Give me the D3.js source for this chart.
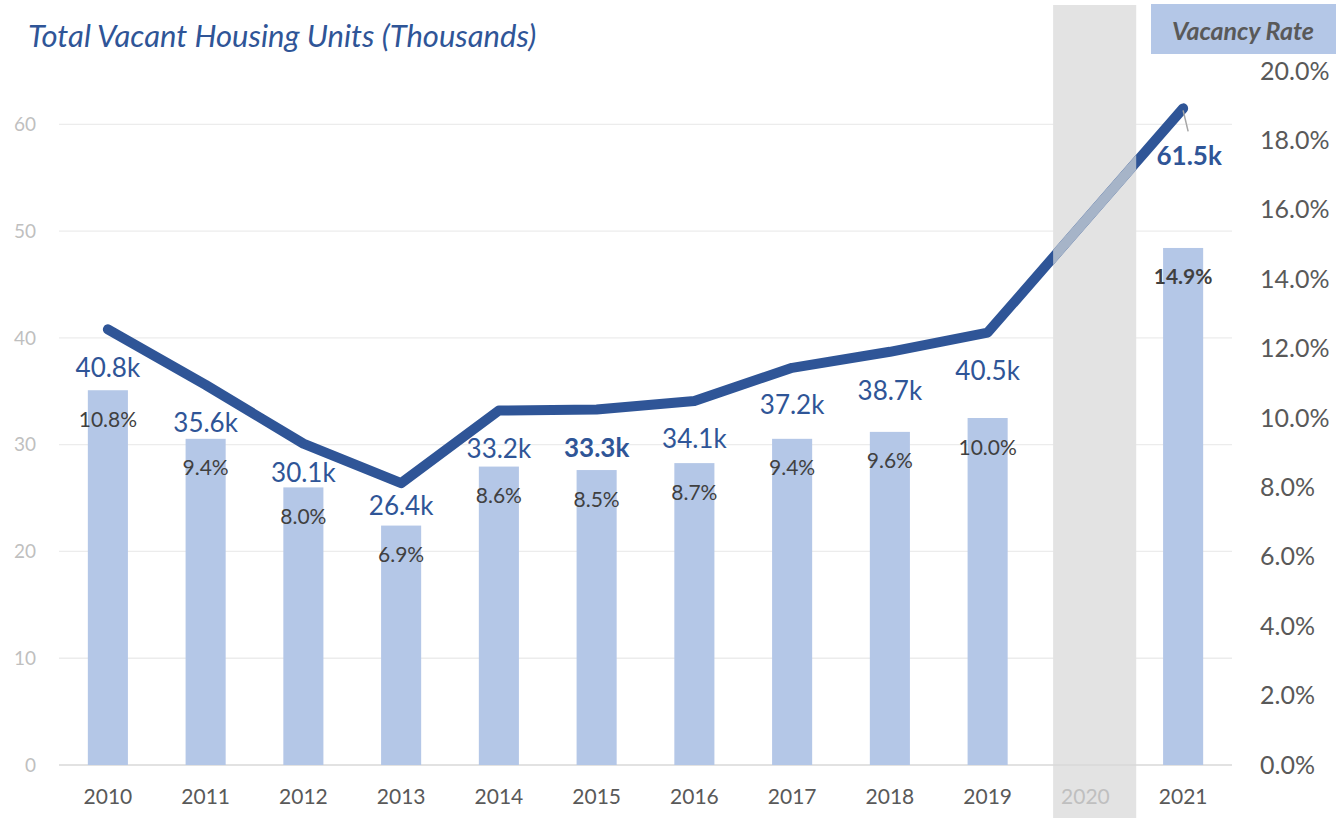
<!DOCTYPE html>
<html>
<head>
<meta charset="utf-8">
<script src="https://cdn.jsdelivr.net/npm/d3@7"></script>
<style>
  body { margin: 0; background: #fff; }
  svg { display: block; font-family: Lato, "Open Sans", sans-serif; }
</style>
</head>
<body>
<svg id="chart" width="1339" height="818"></svg>
<script>
// data
const years = ['2010', '2011', '2012', '2013', '2014', '2015', '2016', '2017', '2018', '2019', '2020', '2021'];
const vacantUnits = [40.8, 35.6, 30.1, 26.4, 33.2, 33.3, 34.1, 37.2, 38.7, 40.5, null, 61.5];
const vacancyRate = [0.108, 0.094, 0.080, 0.069, 0.086, 0.085, 0.087, 0.094, 0.096, 0.100, null, 0.149];
const leftTicks = [0, 10, 20, 30, 40, 50, 60];
const rightTicks = [0, 0.02, 0.04, 0.06, 0.08, 0.10, 0.12, 0.14, 0.16, 0.18, 0.20];
const boldLabels = ['2015', '2021'];
const greyedYear = '2020';

// how far each "k" label sits under its line point (hand-placed in the original)
const labelDrop = [38, 37, 28, 22, 37, 38, 37, 36, 38, 37, 0, 0];

const blue = '#2f5597';
const barBlue = '#b4c7e7';

const svg = d3.select('#chart');

const x = d3.scaleBand()
    .domain(years)
    .range([59, 1232])
    .paddingInner(0.59)
    .paddingOuter(0.295);

const yLeft = d3.scaleLinear().domain([0, 65]).range([765, 71]);
const yRight = d3.scaleLinear().domain([0, 0.2]).range([765, 71]);

const cx = d => x(d) + x.bandwidth() / 2;

// gridlines
svg.append('g')
    .selectAll('line')
    .data(leftTicks.filter(t => t > 0))
    .join('line')
    .attr('x1', 59).attr('x2', 1232)
    .attr('y1', d => yLeft(d)).attr('y2', d => yLeft(d))
    .attr('stroke', '#ececec')
    .attr('stroke-width', 1.3);

// greyed-out year band
const step = x.step();
const gx0 = cx(greyedYear) - 0.33 * step;
const gx1 = cx(greyedYear) + 0.52 * step;
svg.append('rect')
    .attr('x', gx0).attr('y', 5)
    .attr('width', gx1 - gx0).attr('height', 813)
    .attr('fill', '#e3e3e3');

// baseline
svg.append('line')
    .attr('x1', 59).attr('x2', 1232)
    .attr('y1', yLeft(0)).attr('y2', yLeft(0))
    .attr('stroke', '#d9d9d9')
    .attr('stroke-width', 1.5);

// bars (vacancy rate, right axis)
const rows = years.map((yr, i) => ({ year: yr, units: vacantUnits[i], rate: vacancyRate[i], drop: labelDrop[i] }));
const withData = rows.filter(d => d.units !== null);

svg.append('g')
    .selectAll('rect')
    .data(withData)
    .join('rect')
    .attr('x', d => x(d.year))
    .attr('y', d => yRight(d.rate))
    .attr('width', x.bandwidth())
    .attr('height', d => yRight(0) - yRight(d.rate))
    .attr('fill', barBlue);

// line (units, left axis)
const line = d3.line()
    .x(d => cx(d.year))
    .y(d => yLeft(d.units));

svg.append('path')
    .datum(withData)
    .attr('d', line)
    .attr('fill', 'none')
    .attr('stroke', blue)
    .attr('stroke-width', 10)
    .attr('stroke-linecap', 'round')
    .attr('stroke-linejoin', 'round');

// faded part of the line inside the grey band
svg.append('clipPath')
    .attr('id', 'greyClip')
    .append('rect')
    .attr('x', gx0).attr('y', 5)
    .attr('width', gx1 - gx0).attr('height', 813);

svg.append('path')
    .datum(withData)
    .attr('d', line)
    .attr('clip-path', 'url(#greyClip)')
    .attr('fill', 'none')
    .attr('stroke', '#a6b4c8')
    .attr('stroke-width', 10);

// "k" labels
const last = withData[withData.length - 1];
svg.append('g')
    .selectAll('text')
    .data(withData.filter(d => d !== last))
    .join('text')
    .attr('x', d => cx(d.year))
    .attr('y', d => yLeft(d.units) + d.drop)
    .attr('text-anchor', 'middle')
    .attr('dominant-baseline', 'central')
    .attr('fill', blue)
    .attr('font-size', 26)
    .attr('font-weight', d => boldLabels.includes(d.year) ? 'bold' : 'normal')
    .text(d => d.units.toFixed(1) + 'k');

// last point label with leader line
svg.append('line')
    .attr('x1', cx(last.year)).attr('y1', yLeft(last.units) + 2)
    .attr('x2', cx(last.year) + 5).attr('y2', yLeft(last.units) + 23)
    .attr('stroke', '#a6a6a6')
    .attr('stroke-width', 1.5);

svg.append('text')
    .attr('x', cx(last.year) + 6)
    .attr('y', yLeft(last.units) + 47)
    .attr('text-anchor', 'middle')
    .attr('dominant-baseline', 'central')
    .attr('fill', blue)
    .attr('font-size', 26)
    .attr('font-weight', 'bold')
    .text(last.units.toFixed(1) + 'k');

// percent labels inside bars
svg.append('g')
    .selectAll('text')
    .data(withData)
    .join('text')
    .attr('x', d => cx(d.year))
    .attr('y', d => yRight(d.rate) + 28)
    .attr('text-anchor', 'middle')
    .attr('dominant-baseline', 'central')
    .attr('fill', '#404040')
    .attr('font-size', 21)
    .attr('font-weight', d => d === last ? 'bold' : 'normal')
    .text(d => (d.rate * 100).toFixed(1) + '%');

// left axis
const leftAxis = svg.append('g')
    .attr('transform', 'translate(36,0)')
    .call(d3.axisLeft(yLeft).tickValues(leftTicks).tickSize(0).tickPadding(0));
leftAxis.select('.domain').remove();
leftAxis.selectAll('text')
    .attr('fill', '#bfbfbf')
    .attr('font-size', 19)
    .attr('font-family', 'Lato, sans-serif');

// right axis
const rightAxis = svg.append('g')
    .attr('transform', 'translate(1260,0)')
    .call(d3.axisRight(yRight).tickValues(rightTicks).tickFormat(d3.format('.1%')).tickSize(0).tickPadding(0));
rightAxis.select('.domain').remove();
rightAxis.selectAll('text')
    .attr('fill', '#595959')
    .attr('font-size', 25)
    .attr('font-family', 'Lato, sans-serif');

// bottom axis
const bottomAxis = svg.append('g')
    .attr('transform', 'translate(0,789)')
    .call(d3.axisBottom(x).tickSize(0).tickPadding(0));
bottomAxis.select('.domain').remove();
bottomAxis.selectAll('text')
    .attr('fill', d => d === greyedYear ? '#bfbfbf' : '#595959')
    .attr('font-size', 21)
    .attr('font-family', 'Lato, sans-serif');

// title
svg.append('text')
    .attr('x', 28)
    .attr('y', 47)
    .attr('fill', blue)
    .attr('font-size', 31)
    .attr('font-style', 'italic')
    .text('Total Vacant Housing Units (Thousands)');

// right axis title box
svg.append('rect')
    .attr('x', 1151).attr('y', 4)
    .attr('width', 185).attr('height', 50)
    .attr('fill', barBlue);

svg.append('text')
    .attr('x', 1243)
    .attr('y', 30)
    .attr('text-anchor', 'middle')
    .attr('dominant-baseline', 'central')
    .attr('fill', '#595959')
    .attr('font-size', 25)
    .attr('font-weight', 'bold')
    .attr('font-style', 'italic')
    .text('Vacancy Rate');
</script>
</body>
</html>
